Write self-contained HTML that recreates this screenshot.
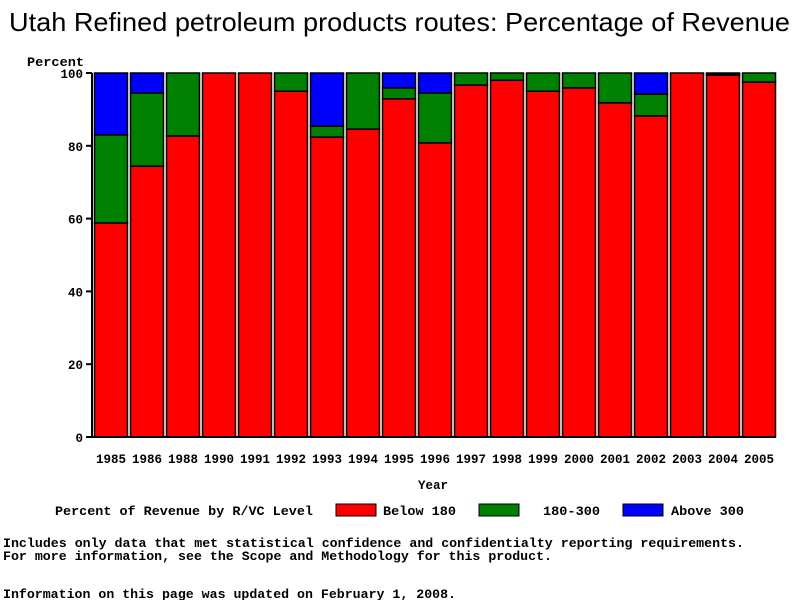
<!DOCTYPE html>
<html><head><meta charset="utf-8"><style>
body{margin:0;background:#fff;width:800px;height:600px;overflow:hidden}
text{font-family:"Liberation Mono",monospace;font-weight:bold;font-size:12.5px}
</style></head><body>
<svg id="c" width="800" height="600">
<text x="9" y="31" textLength="781" lengthAdjust="spacingAndGlyphs" style="font-family:'Liberation Sans',sans-serif;font-weight:normal;font-size:26px">Utah Refined petroleum products routes: Percentage of Revenue</text>
<text x="27" y="66" textLength="57" lengthAdjust="spacingAndGlyphs">Percent</text>
<text x="433" y="489" text-anchor="middle">Year</text>
<g id="bars"></g>
<g id="axes"></g>
<g>
<text x="55" y="515" textLength="258" lengthAdjust="spacingAndGlyphs">Percent of Revenue by R/VC Level</text>
<rect x="336" y="504" width="40" height="12" fill="#ff0000" stroke="#000"/>
<text x="383" y="515" textLength="73" lengthAdjust="spacingAndGlyphs">Below 180</text>
<rect x="479" y="504" width="40" height="12" fill="#008000" stroke="#000"/>
<text x="543" y="515" textLength="57" lengthAdjust="spacingAndGlyphs">180-300</text>
<rect x="623" y="504" width="40" height="12" fill="#0000ff" stroke="#000"/>
<text x="671" y="515" textLength="73" lengthAdjust="spacingAndGlyphs">Above 300</text>
</g>
<text x="3" y="547" textLength="741" lengthAdjust="spacingAndGlyphs">Includes only data that met statistical confidence and confidentialty reporting requirements.</text>
<text x="3" y="560" textLength="549" lengthAdjust="spacingAndGlyphs">For more information, see the Scope and Methodology for this product.</text>
<text x="3" y="598" textLength="453" lengthAdjust="spacingAndGlyphs">Information on this page was updated on February 1, 2008.</text>
</svg>
<script>
const years=["1985","1986","1988","1990","1991","1992","1993","1994","1995","1996","1997","1998","1999","2000","2001","2002","2003","2004","2005"];
const below180=[58.8,74.4,82.7,100,100,95,82.4,84.6,92.9,80.8,96.7,98,95,95.9,91.8,88.2,100,99.4,97.5];
const mid180to300=[24.2,20.1,17.3,0,0,5,3,15.4,3,13.7,3.3,2,5,4.1,8.2,6,0,0.4,2.5];
const above300=[17,5.5,0,0,0,0,14.6,0,4.1,5.5,0,0,0,0,0,5.8,0,0.2,0];
const yTicks=[0,20,40,60,80,100];
const NS="http://www.w3.org/2000/svg";
const x0=92,x1=776,yTop=73,yBot=437;
const y=v=>yBot-(v/100)*(yBot-yTop);
const slot=(x1-x0)/years.length;
const bx=i=>x0+i*slot+2.5;
const bw=slot-3;
function mk(tag,attrs,parent){const e=document.createElementNS(NS,tag);for(const k in attrs)e.setAttribute(k,attrs[k]);parent.appendChild(e);return e;}
const bars=document.getElementById('bars'),axes=document.getElementById('axes');
const series=[[below180,'#ff0000','below-180'],[mid180to300,'#008000','180-300'],[above300,'#0000ff','above-300']];
years.forEach((yr,i)=>{let cum=0;series.forEach(([arr,col,nm])=>{const v=arr[i];if(v>0){
const r=mk('rect',{x:bx(i),y:y(cum+v),width:bw,height:y(cum)-y(cum+v),fill:col,stroke:'#000','stroke-width':1.5},bars);

}cum+=v;});
const t=mk('text',{x:bx(i)+bw/2,y:yBot+26,'text-anchor':'middle'},axes);t.textContent=yr;


});
const ax=mk('path',{d:`M${x0} ${yTop}V${yBot}H${x1}`,stroke:'#000','stroke-width':2,fill:'none'},axes);


yTicks.forEach(v=>{const tk=mk('line',{x1:x0-6,x2:x0,y1:y(v),y2:y(v),stroke:'#000','stroke-width':2},axes);


const t=mk('text',{x:x0-9,y:y(v)+5,'text-anchor':'end'},axes);t.textContent=v;

});
</script>
</body></html>
